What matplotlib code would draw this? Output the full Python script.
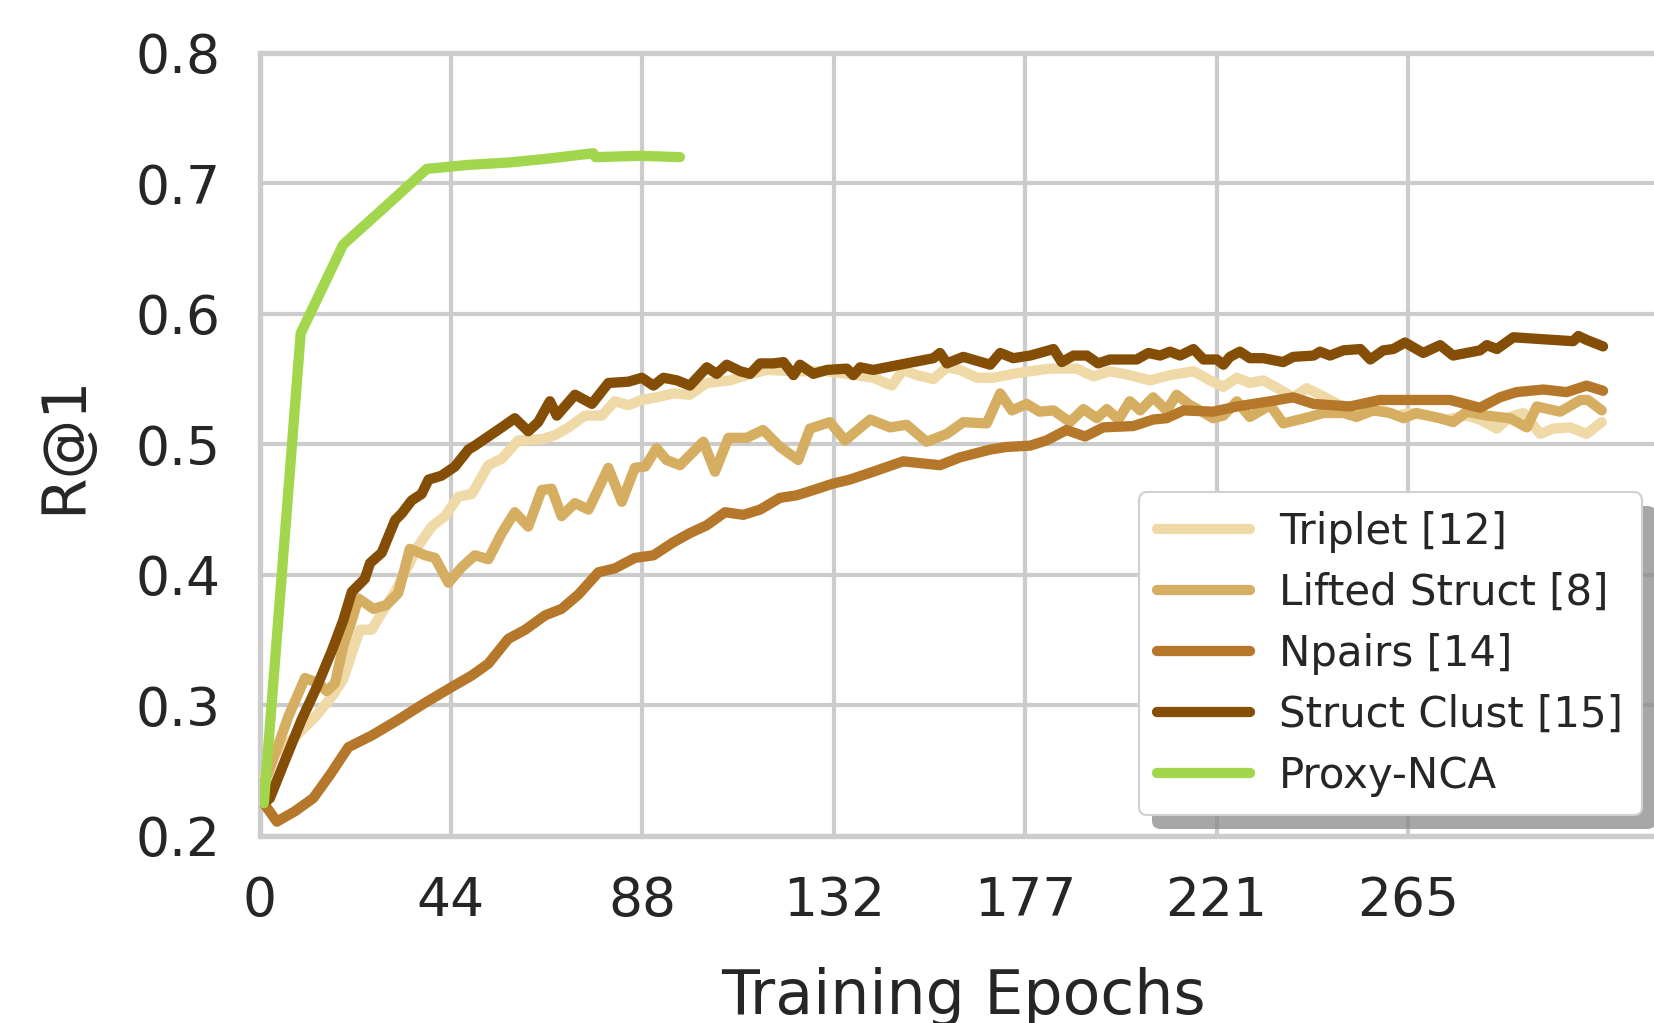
import matplotlib
matplotlib.use("Agg")
import matplotlib.pyplot as plt
import matplotlib.patheffects as pe

# ---- data ----
triplet_x = [1.0, 3.6, 8.2, 12.8, 16.7, 19.3, 21.3, 23.2, 25.9, 28.2, 31.3, 34.0, 36.6, 39.7, 42.8,
             45.9, 49.0, 52.8, 55.9, 59.7, 65.1, 68.2, 71.3, 75.1, 79.0, 82.0, 85.1, 88.2, 91.6,
             95.5, 99.3, 103.2, 108.6, 112.4, 117.0, 124.0, 130.9, 135.5, 141.6, 145.9, 148.5,
             151.6, 155.5, 158.6, 161.6, 165.5, 169.3, 173.9, 177.8, 182.4, 188.6, 192.4, 196.2,
             200.8, 205.5, 210.1, 215.5, 219.3, 222.4, 225.5, 228.5, 231.6, 235.4, 238.5, 241.6,
             244.7, 249.3, 254.7, 259.3, 262.4, 265.5, 269.3, 273.9, 278.5, 281.6, 285.5, 288.5,
             291.6, 295.5, 298.5, 302.4, 306.2, 309.7]
triplet_y = [0.245, 0.263, 0.276, 0.291, 0.307, 0.320, 0.340, 0.358, 0.358, 0.371, 0.387, 0.405,
             0.422, 0.437, 0.445, 0.460, 0.462, 0.484, 0.489, 0.503, 0.504, 0.507, 0.513, 0.522,
             0.522, 0.533, 0.530, 0.534, 0.536, 0.539, 0.538, 0.547, 0.549, 0.553, 0.557, 0.556,
             0.556, 0.554, 0.551, 0.545, 0.557, 0.553, 0.550, 0.559, 0.557, 0.551, 0.551, 0.554,
             0.556, 0.558, 0.558, 0.552, 0.556, 0.553, 0.549, 0.553, 0.556, 0.549, 0.544, 0.551,
             0.547, 0.549, 0.542, 0.536, 0.543, 0.538, 0.530, 0.526, 0.526, 0.522, 0.524, 0.522,
             0.519, 0.522, 0.519, 0.512, 0.521, 0.524, 0.508, 0.512, 0.513, 0.508, 0.517]

lifted_x = [1.0, 2.0, 6.6, 10.5, 13.6, 15.5, 17.4, 19.3, 21.3, 22.8, 26.3, 29.3, 32.0, 34.7, 38.2,
            40.5, 43.6, 46.7, 49.7, 52.8, 55.9, 58.9, 62.0, 65.1, 67.4, 69.7, 72.8, 75.9, 80.5,
            83.6, 86.6, 89.0, 91.6, 93.9, 97.0, 102.4, 105.1, 108.2, 112.4, 116.2, 120.1, 124.3,
            127.0, 131.6, 135.1, 140.9, 145.5, 149.3, 153.9, 158.6, 162.4, 167.8, 170.9, 173.6,
            177.0, 180.0, 183.2, 187.0, 190.1, 193.2, 195.5, 198.2, 200.8, 203.2, 206.2, 209.3,
            211.6, 214.7, 217.0, 220.0, 222.4, 225.5, 228.5, 233.2, 236.2, 242.3, 245.4, 250.1,
            253.1, 257.0, 260.9, 264.0, 267.0, 272.4, 275.4, 278.5, 283.2, 288.5, 292.4, 294.7,
            300.1, 304.8, 306.5, 309.7]
lifted_y = [0.240, 0.248, 0.291, 0.321, 0.317, 0.311, 0.317, 0.345, 0.365, 0.382, 0.374, 0.377,
            0.386, 0.420, 0.415, 0.413, 0.394, 0.406, 0.415, 0.412, 0.432, 0.448, 0.437, 0.465,
            0.466, 0.445, 0.455, 0.450, 0.482, 0.456, 0.482, 0.483, 0.497, 0.488, 0.484, 0.502,
            0.479, 0.505, 0.505, 0.511, 0.498, 0.488, 0.512, 0.517, 0.503, 0.519, 0.513, 0.515,
            0.502, 0.508, 0.517, 0.516, 0.539, 0.526, 0.531, 0.525, 0.526, 0.517, 0.527, 0.520,
            0.527, 0.519, 0.533, 0.526, 0.536, 0.526, 0.538, 0.530, 0.526, 0.520, 0.522, 0.533,
            0.521, 0.530, 0.516, 0.521, 0.524, 0.524, 0.521, 0.526, 0.524, 0.520, 0.524, 0.520,
            0.517, 0.525, 0.522, 0.520, 0.513, 0.529, 0.525, 0.534, 0.534, 0.526]

npairs_x = [1.0, 4.0, 8.2, 12.4, 16.3, 20.5, 25.9, 32.0, 38.2, 44.3, 49.0, 52.8, 57.4, 61.3, 65.9,
            69.7, 73.6, 78.2, 82.0, 86.6, 90.9, 95.5, 99.3, 103.2, 107.4, 111.6, 115.5, 120.1,
            124.0, 127.8, 132.4, 136.2, 141.6, 148.5, 157.0, 161.6, 168.6, 172.4, 177.8, 181.6,
            186.2, 190.5, 194.7, 201.6, 206.2, 209.3, 213.2, 220.0, 225.5, 233.2, 238.5, 243.2,
            251.6, 258.5, 266.2, 274.7, 281.6, 286.2, 290.0, 296.2, 301.6, 306.2, 310.0]
npairs_y = [0.225, 0.211, 0.219, 0.229, 0.247, 0.268, 0.277, 0.289, 0.302, 0.314, 0.323, 0.332,
            0.351, 0.358, 0.369, 0.374, 0.385, 0.402, 0.405, 0.413, 0.415, 0.425, 0.432, 0.438,
            0.448, 0.446, 0.450, 0.459, 0.461, 0.465, 0.470, 0.473, 0.479, 0.487, 0.484, 0.490,
            0.496, 0.498, 0.499, 0.503, 0.511, 0.506, 0.513, 0.514, 0.519, 0.520, 0.526, 0.525,
            0.529, 0.533, 0.536, 0.531, 0.529, 0.534, 0.534, 0.534, 0.528, 0.536, 0.540, 0.542,
            0.540, 0.545, 0.541]

clust_x = [1.0, 2.4, 5.9, 9.7, 13.2, 16.7, 19.3, 21.3, 24.3, 25.5, 28.2, 31.3, 32.8, 35.1, 37.4,
           39.0, 42.0, 45.1, 48.2, 49.7, 52.8, 55.9, 58.9, 62.0, 64.3, 67.0, 68.6, 72.8, 76.7,
           80.5, 85.1, 88.2, 90.9, 93.2, 96.3, 99.3, 103.2, 105.5, 107.8, 110.9, 113.2, 115.5,
           118.6, 120.9, 123.2, 124.7, 127.8, 130.9, 135.5, 137.0, 138.6, 141.6, 149.3, 155.5,
           157.0, 158.6, 162.4, 168.6, 170.9, 173.9, 177.8, 180.0, 183.2, 185.1, 187.8, 190.9,
           193.5, 196.2, 202.4, 205.1, 207.8, 210.1, 212.4, 215.5, 217.8, 220.9, 222.4, 223.9,
           226.2, 228.5, 231.6, 236.2, 238.5, 243.2, 244.7, 247.0, 250.1, 254.0, 256.3, 259.3,
           261.6, 264.3, 268.5, 272.4, 275.4, 281.6, 283.2, 285.5, 289.3, 303.1, 304.3, 306.2,
           310.0]
clust_y = [0.225, 0.229, 0.258, 0.289, 0.314, 0.342, 0.365, 0.387, 0.397, 0.409, 0.417, 0.442,
           0.447, 0.457, 0.462, 0.473, 0.476, 0.483, 0.496, 0.499, 0.506, 0.513, 0.520, 0.510,
           0.517, 0.533, 0.522, 0.538, 0.531, 0.547, 0.548, 0.551, 0.545, 0.551, 0.549, 0.545,
           0.559, 0.554, 0.561, 0.556, 0.554, 0.562, 0.562, 0.563, 0.553, 0.561, 0.554, 0.557,
           0.558, 0.553, 0.559, 0.557, 0.562, 0.566, 0.570, 0.562, 0.567, 0.561, 0.570, 0.566,
           0.568, 0.570, 0.573, 0.563, 0.568, 0.568, 0.562, 0.565, 0.565, 0.570, 0.568, 0.571,
           0.568, 0.573, 0.565, 0.565, 0.561, 0.567, 0.571, 0.566, 0.566, 0.563, 0.567, 0.568,
           0.571, 0.568, 0.572, 0.573, 0.565, 0.572, 0.573, 0.578, 0.570, 0.576, 0.568, 0.572,
           0.576, 0.573, 0.582, 0.579, 0.583, 0.580, 0.575]

proxy_x = [1.0, 9.5, 19.3, 29.0, 38.6, 48.0, 58.0, 67.0, 77.0, 77.5, 87.8, 97.0]
proxy_y = [0.225, 0.585, 0.653, 0.682, 0.711, 0.714, 0.716, 0.719, 0.723, 0.720, 0.721, 0.720]

labels = ["Triplet [12]", "Lifted Struct [8]", "Npairs [14]", "Struct Clust [15]", "Proxy-NCA"]
colors = ["#efd9a6", "#d5ae62", "#b5772a", "#844e06", "#a2d64c"]

xtick_pos = [0, 44.17, 88.33, 132.5, 176.67, 220.83, 265]
xtick_labels = ["0", "44", "88", "132", "177", "221", "265"]
ytick_pos = [0.2, 0.3, 0.4, 0.5, 0.6, 0.7, 0.8]

plt.rcParams["font.family"] = ["DejaVu Sans"]
text_color = "#262626"
grid_color = "#cccccc"
line_w = 7.4

fig = plt.figure(figsize=(16.54, 10.23), dpi=100, facecolor="white")
ax = fig.add_axes([0.1569, 0.1828, 0.8516, 0.7657])
ax.set_facecolor("white")

series = [(triplet_x, triplet_y), (lifted_x, lifted_y), (npairs_x, npairs_y),
          (clust_x, clust_y), (proxy_x, proxy_y)]
for (xs, ys), lab, col in zip(series, labels, colors):
    ax.plot(xs, ys, color=col, lw=line_w, label=lab, solid_capstyle="round",
            solid_joinstyle="round", zorder=3)

ax.set_xlim(0, 325)
ax.set_ylim(0.2, 0.8)
ax.set_xticks(xtick_pos)
ax.set_xticklabels(xtick_labels)
ax.set_yticks(ytick_pos)
ax.set_yticklabels(["%.1f" % v for v in ytick_pos])

ax.grid(True, color=grid_color, lw=3.0, zorder=0)
ax.set_axisbelow(True)
for s in ax.spines.values():
    s.set_color(grid_color)
    s.set_linewidth(3.8)
ax.spines["right"].set_visible(False)

ax.tick_params(axis="both", length=0, labelsize=38.5, colors=text_color, pad=28)
ax.set_xlabel("Training Epochs", fontsize=44.5, color=text_color, labelpad=29)
ax.set_ylabel("R@1", fontsize=43, color=text_color, labelpad=30)

leg = ax.legend(loc="lower right", bbox_to_anchor=(0.9927, 0.2029), bbox_transform=fig.transFigure,
                borderaxespad=0, fontsize=30.2, frameon=True, fancybox=True,
                handlelength=2.2, handletextpad=0.7, labelspacing=0.45,
                borderpad=0.45, edgecolor="#d0d0d0", framealpha=1.0)
for t in leg.get_texts():
    t.set_color(text_color)
for h in leg.get_lines():
    h.set_linewidth(line_w)
leg.get_frame().set_linewidth(1.5)
leg.get_frame().set_path_effects([
    pe.SimplePatchShadow(offset=(10, -10), shadow_rgbFace="#8a8a8a", alpha=0.75),
    pe.Normal()])

fig.savefig("out.png", dpi=100, facecolor="white")
